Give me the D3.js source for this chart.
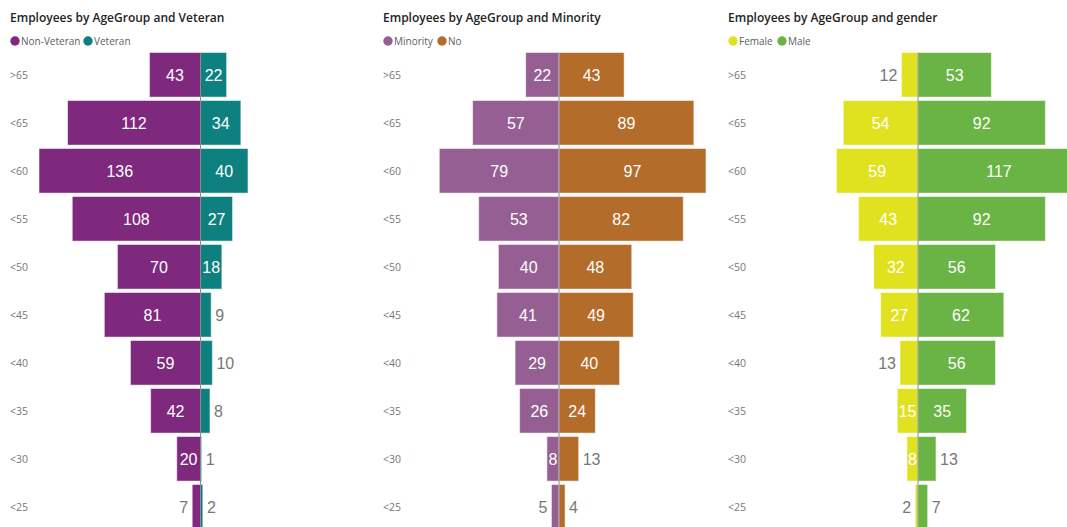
<!DOCTYPE html>
<html>
<head>
<meta charset="utf-8">
<title>Employees by AgeGroup</title>
<script src="https://d3js.org/d3.v7.min.js"></script>
<style>
  body { margin: 0; background: #fff; }
  svg { display: block; }
</style>
</head>
<body>
<div id="chart"></div>
<script>
// age groups, top to bottom
var ageGroups = [">65", "<65", "<60", "<55", "<50", "<45", "<40", "<35", "<30", "<25"];

// panel 1 - veteran
var nonVeteran = [43, 112, 136, 108, 70, 81, 59, 42, 20, 7];
var veteran    = [22, 34, 40, 27, 18, 9, 10, 8, 1, 2];
// panel 2 - minority
var minority   = [22, 57, 79, 53, 40, 41, 29, 26, 8, 5];
var noMinority = [43, 89, 97, 82, 48, 49, 40, 24, 13, 4];
// panel 3 - gender
var female     = [12, 54, 59, 43, 32, 27, 13, 15, 8, 2];
var male       = [53, 92, 117, 92, 56, 62, 56, 35, 13, 7];

var panels = [
  {title: "Employees by AgeGroup and Veteran", names: ["Non-Veteran", "Veteran"],
   left: nonVeteran, right: veteran, colors: ["#7e287e", "#0f8080"],
   x0: 10, xr: [39, 362], legendGap: 73},
  {title: "Employees by AgeGroup and Minority", names: ["Minority", "No"],
   left: minority, right: noMinority, colors: ["#955f93", "#b36c29"],
   x0: 383, xr: [412, 706], legendGap: 54},
  {title: "Employees by AgeGroup and gender", names: ["Female", "Male"],
   left: female, right: male, colors: ["#e0e21f", "#6ab345"],
   x0: 728, xr: [756, 1080], legendGap: 49}
];

var width = 1067, height = 527;
var svg = d3.select("#chart").append("svg")
    .attr("width", width).attr("height", height);

var y = d3.scaleBand()
    .domain(ageGroups)
    .range([50.8, 530.8])
    .paddingInner(0.07)
    .paddingOuter(0.035);

var uiFont = "'Segoe UI', 'Open Sans', sans-serif";
var valueFont = "'Liberation Sans', Arial, sans-serif";

panels.forEach(function(p) {
  var maxV = d3.max(p.left.concat(p.right));
  var x = d3.scaleLinear().domain([-maxV, maxV]).range(p.xr);
  var g = svg.append("g");

  g.append("text")
    .attr("x", p.x0).attr("y", 22)
    .style("font-family", uiFont)
    .style("font-size", "12px").style("font-weight", 600)
    .style("fill", "#252423")
    .text(p.title);

  // legend
  var lx = p.x0 + 5;
  p.names.forEach(function(n, i) {
    var cx = i === 0 ? lx : lx + p.legendGap;
    g.append("circle").attr("cx", cx).attr("cy", 41).attr("r", 4.7)
      .style("fill", p.colors[i]);
    g.append("text").attr("x", cx + 6).attr("y", 44.5)
      .style("font-family", uiFont)
      .style("font-size", "10px").style("fill", "#605e5c")
      .text(n);
  });

  // row labels
  g.selectAll(".rowlab").data(ageGroups).enter().append("text")
    .attr("x", p.x0).attr("y", function(d) { return y(d) + y.bandwidth() / 2 + 4; })
    .style("font-family", uiFont)
    .style("font-size", "10.5px").style("fill", "#777")
    .text(function(d) { return d; });

  var rows = [];
  ageGroups.forEach(function(a, i) {
    rows.push({age: a, v: p.left[i], side: -1, color: p.colors[0]});
    rows.push({age: a, v: p.right[i], side: 1, color: p.colors[1]});
  });

  g.selectAll(".bar").data(rows).enter().append("rect")
    .attr("x", function(d) { return d.side < 0 ? x(-d.v) : x(0); })
    .attr("y", function(d) { return y(d.age); })
    .attr("width", function(d) { return Math.abs(x(d.v) - x(0)); })
    .attr("height", y.bandwidth())
    .style("fill", function(d) { return d.color; })
    .style("stroke", "rgba(255,255,255,0.55)")
    .style("stroke-width", 1);

  // center line
  g.append("line")
    .attr("x1", x(0)).attr("x2", x(0))
    .attr("y1", y(ageGroups[0])).attr("y2", height)
    .style("stroke", "#8a8a8a").style("stroke-width", 1);

  // value labels: inside in white when they fit, outside in grey otherwise
  g.selectAll(".val").data(rows).enter().append("text")
    .style("font-family", valueFont).style("font-size", "16px")
    .attr("y", function(d) { return y(d.age) + y.bandwidth() / 2 + 6; })
    .text(function(d) { return d.v; })
    .each(function(d) {
      var t = d3.select(this);
      var tw = this.getComputedTextLength();
      var bw = Math.abs(x(d.v) - x(0));
      if (tw + 2 <= bw) {
        t.attr("x", x(0) + d.side * bw / 2).attr("text-anchor", "middle").style("fill", "#fff");
      } else {
        t.attr("x", x(0) + d.side * (bw + 4))
          .attr("text-anchor", d.side < 0 ? "end" : "start").style("fill", "#777");
      }
    });
});
</script>
</body>
</html>
